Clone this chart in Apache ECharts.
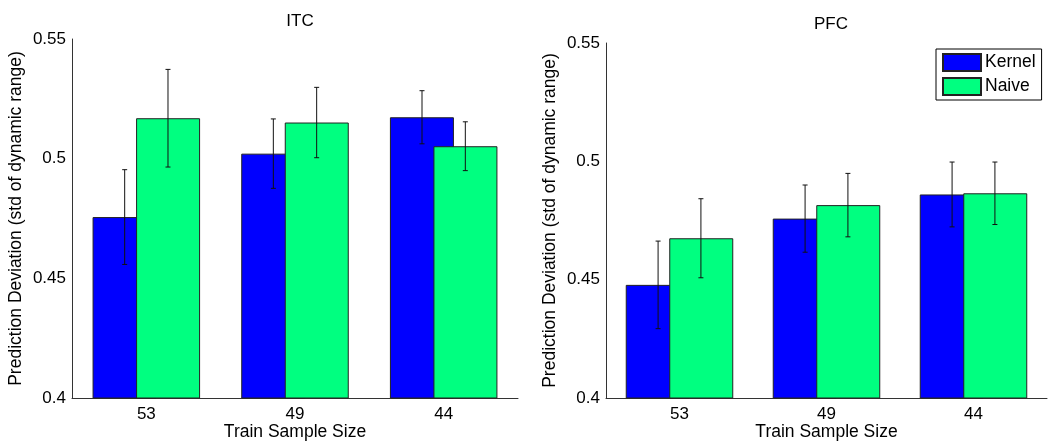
<!DOCTYPE html>
<html>
<head>
<meta charset="utf-8">
<script src="https://cdn.jsdelivr.net/npm/echarts@6/dist/echarts.min.js"></script>
<style>
  html, body { margin: 0; padding: 0; background: #fff; }
  #chart { width: 1062px; height: 442px; }
</style>
</head>
<body>
<div id="chart"></div>
<script>
  // 数据
  const categories = ['53', '49', '44'];
  const panels = ['ITC', 'PFC'];
  const itcKernel = [0.4756, 0.5021, 0.5173];
  const itcKernelErr = [0.0198, 0.0145, 0.0111];
  const itcNaive = [0.5169, 0.5151, 0.5052];
  const itcNaiveErr = [0.0204, 0.0147, 0.0102];
  const pfcKernel = [0.4478, 0.4758, 0.4860];
  const pfcKernelErr = [0.0185, 0.0142, 0.0137];
  const pfcNaive = [0.4675, 0.4815, 0.4865];
  const pfcNaiveErr = [0.0167, 0.0134, 0.0132];

  const FONT = 'Liberation Sans';
  const blue = '#0000ff';
  const green = '#00ff80';

  let chart = echarts.init(document.getElementById('chart'));

  // 误差线
  function errSeries(name, vals, errs, axisIdx, side) {
    return {
      name: name + 'Err',
      type: 'custom',
      xAxisIndex: axisIdx,
      yAxisIndex: axisIdx,
      z: 10,
      silent: true,
      data: vals.map((v, i) => [i, v - errs[i], v + errs[i]]),
      renderItem: function (params, api) {
        let band = api.size([1, 0])[0];
        let off = side * band * 0.1457;
        let lo = api.coord([api.value(0), api.value(1)]);
        let hi = api.coord([api.value(0), api.value(2)]);
        let x = lo[0] + off;
        let cap = 2.5;
        let style = { stroke: '#111', lineWidth: 1 };
        return {
          type: 'group',
          children: [
            { type: 'line', shape: { x1: x, y1: lo[1], x2: x, y2: hi[1] }, style: style },
            { type: 'line', shape: { x1: x - cap, y1: lo[1], x2: x + cap, y2: lo[1] }, style: style },
            { type: 'line', shape: { x1: x - cap, y1: hi[1], x2: x + cap, y2: hi[1] }, style: style }
          ]
        };
      }
    };
  }

  function barSeries(name, vals, color, axisIdx) {
    return {
      name: name,
      type: 'bar',
      xAxisIndex: axisIdx,
      yAxisIndex: axisIdx,
      barWidth: 64,
      barGap: '-32%',
      itemStyle: { color: color, borderColor: '#222', borderWidth: 1 },
      data: vals
    };
  }

  function xAx(gi) {
    return {
      type: 'category',
      gridIndex: gi,
      data: categories,
      name: 'Train Sample Size',
      nameLocation: 'middle',
      nameGap: 25,
      nameMoveOverlap: false,
      nameTextStyle: { fontFamily: FONT, fontSize: 17.5, color: '#000' },
      axisLine: { lineStyle: { color: '#333', width: 1 } },
      axisTick: { show: false },
      axisLabel: { fontFamily: FONT, fontSize: 17, color: '#000', margin: 8 }
    };
  }

  function yAx(gi) {
    return {
      type: 'value',
      gridIndex: gi,
      min: 0.4,
      max: 0.55,
      interval: 0.05,
      name: 'Prediction Deviation (std of dynamic range)',
      nameLocation: 'middle',
      nameGap: 47,
      nameMoveOverlap: false,
      nameTextStyle: { fontFamily: FONT, fontSize: 17.5, color: '#000' },
      axisLine: { show: true, lineStyle: { color: '#333', width: 1 } },
      axisTick: { show: false },
      splitLine: { show: false },
      axisLabel: { fontFamily: FONT, fontSize: 17, color: '#000', margin: 6 }
    };
  }

  let option = {
    backgroundColor: '#fff',
    animation: false,
    title: [
      { text: panels[0], left: 295, top: 8, textAlign: 'center',
        textStyle: { fontFamily: FONT, fontSize: 17, fontWeight: 'normal', color: '#000' } },
      { text: panels[1], left: 826, top: 11, textAlign: 'center',
        textStyle: { fontFamily: FONT, fontSize: 17, fontWeight: 'normal', color: '#000' } }
    ],
    legend: {
      data: ['Kernel', 'Naive'],
      orient: 'vertical',
      left: 936,
      top: 49,
      itemWidth: 38,
      itemHeight: 17,
      itemGap: 5,
      padding: [4, 6, 4, 6],
      borderColor: '#000',
      borderWidth: 1,
      icon: 'rect',
      textStyle: { fontFamily: FONT, fontSize: 17.5, color: '#000', padding: [0, 0, 0, -1] }
    },
    grid: [
      { left: 72, top: 39, width: 446, bottom: 44, outerBoundsMode: 'none', containLabel: false },
      { left: 606, top: 43, width: 441, bottom: 44, outerBoundsMode: 'none', containLabel: false }
    ],
    xAxis: [xAx(0), xAx(1)],
    yAxis: [yAx(0), yAx(1)],
    series: [
      barSeries('Kernel', itcKernel, blue, 0),
      barSeries('Naive', itcNaive, green, 0),
      barSeries('Kernel', pfcKernel, blue, 1),
      barSeries('Naive', pfcNaive, green, 1),
      errSeries('Kernel', itcKernel, itcKernelErr, 0, -1),
      errSeries('Naive', itcNaive, itcNaiveErr, 0, 1),
      errSeries('Kernel', pfcKernel, pfcKernelErr, 1, -1),
      errSeries('Naive', pfcNaive, pfcNaiveErr, 1, 1)
    ]
  };

  chart.setOption(option);
</script>
</body>
</html>
